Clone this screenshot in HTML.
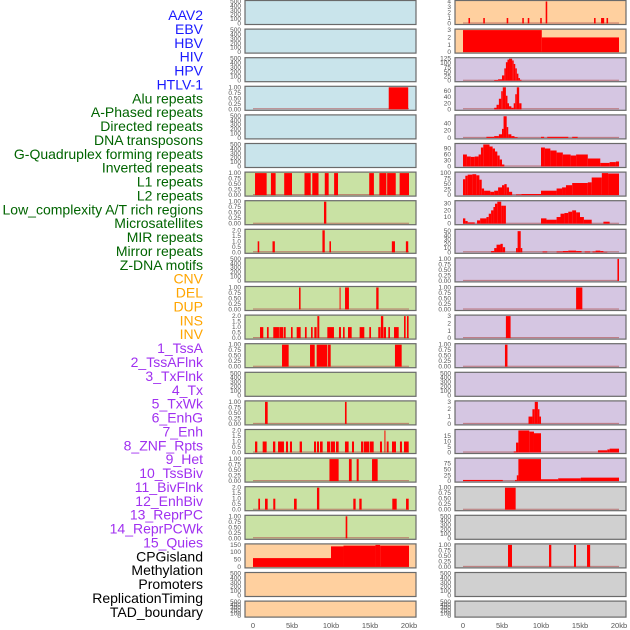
<!DOCTYPE html>
<html><head><meta charset="utf-8"><style>
html,body{margin:0;padding:0;background:#fff;}
svg{display:block;font-family:"Liberation Sans",sans-serif;}
</style></head><body>
<svg id="chart" width="630" height="630" viewBox="0 0 630 630"></svg>
<script>
const labels = ["AAV2","EBV","HBV","HIV","HPV","HTLV-1","Alu repeats","A-Phased repeats","Directed repeats","DNA transposons","G-Quadruplex forming repeats","Inverted repeats","L1 repeats","L2 repeats","Low_complexity A/T rich regions","Microsatellites","MIR repeats","Mirror repeats","Z-DNA motifs","CNV","DEL","DUP","INS","INV","1_TssA","2_TssAFlnk","3_TxFlnk","4_Tx","5_TxWk","6_EnhG","7_Enh","8_ZNF_Rpts","9_Het","10_TssBiv","11_BivFlnk","12_EnhBiv","13_ReprPC","14_ReprPCWk","15_Quies","CPGisland","Methylation","Promoters","ReplicationTiming","TAD_boundary"];
const labelGroups = ["b","b","b","b","b","b","g","g","g","g","g","g","g","g","g","g","g","g","g","o","o","o","o","o","p","p","p","p","p","p","p","p","p","p","p","p","p","p","p","k","k","k","k","k"];
const leftBg  = ["blue","blue","blue","blue","blue","blue","green","green","green","green","green","green","green","green","green","green","green","green","green","peach","peach","peach"];
const rightBg = ["peach","peach","purple","purple","purple","purple","purple","purple","purple","purple","purple","purple","purple","purple","purple","purple","purple","gray","gray","gray","gray","gray"];
const T500=["0","100","200","300","400","500"], T1=["0.00","0.25","0.50","0.75","1.00"], T2=["0.0","0.5","1.0","1.5","2.0"];
const leftTicks = [T500,T500,T500,T1,T500,T500,T1,T1,T2,T500,T1,T2,T1,T500,T1,T2,T1,T2,T1,["0","50","100","150"],T500,T500];
const leftMax = [500,500,500,1,500,500,1,1,2,500,1,2,1,500,1,2,1,2,1,150,500,500];
const rightTicks = [["0","1","2","3","4"],["0","1","2","3"],["0","25","50","75","100","125"],["0","20","40","60"],["0","20","40"],["0","30","60","90"],["0","25","50","75","100"],["0","10","20","30"],["0","10","20","30","40","50"],T1,T1,["0","1","2","3"],T1,T500,["0","1","2","3"],["0","5","10","15"],["0","25","50","75"],T1,T500,T1,T500,T500];
const rightMax = [4,3,125,73,61,110,100,33,52,1,1,3,1,500,3,20,95,1,500,1,500,500];
const leftSegs = [
 [],[],[],
 [[17.4,19.9,1]],
 [],[],
 [[0.26,1.75,1],[2.3,2.9,1],[4.0,5.0,1],[6.6,7.4,1],[7.6,8.4,1],[9.2,9.7,1],[10.4,10.9,1],[14.9,15.5,1],[16.2,17.1,1],[17.2,18.3,1],[18.8,20,1]],
 [[9.1,9.4,1]],
 [[0.6,0.8,1],[2.5,2.8,1],[8.9,9.2,2],[9.8,10.0,1],[17.8,18.2,1],[19.6,19.9,1]],
 [],
 [[5.9,6.1,1],[11.1,11.2,1],[11.8,12.3,1],[15.8,16.1,1]],
 [[0.9,1.32,1],[1.79,2.01,1],[2.6,3.33,1],[3.37,3.89,1],[3.97,4.19,1],[4.87,5.08,1],[5.6,6.11,1],[6.66,6.88,1],[7.44,7.65,1],[7.86,8.16,1],[8.25,8.5,2],[9.53,10.38,1],[11.02,11.28,1],[11.54,11.75,1],[12.18,12.65,1],[13.67,14.27,1],[14.91,15.13,1],[16.06,16.36,1],[16.4,16.7,2],[16.75,17.05,1],[17.35,17.56,1],[18.08,18.68,1],[19.36,19.57,2],[19.74,19.95,2]],
 [[3.72,4.57,1],[7.31,7.91,1],[8.16,9.53,1],[9.62,9.96,1],[18.2,19.06,1]],
 [],
 [[1.54,1.88,1],[11.79,12.0,1]],
 [[0.26,0.55,1],[1.24,1.75,1],[2.56,2.86,1],[3.21,3.97,1],[4.23,4.49,1],[4.74,5.0,1],[5.98,6.28,1],[7.82,8.08,1],[8.2,8.46,1],[8.59,8.93,1],[9.49,9.87,1],[9.96,10.51,1],[10.64,10.98,1],[11.79,12.26,1],[12.69,12.95,1],[13.85,14.15,1],[14.23,14.92,1],[15.0,15.47,1],[16.28,16.54,1],[16.85,16.95,2],[17.14,17.39,1],[17.82,18.33,1],[18.84,19.1,1],[19.36,19.96,1]],
 [[9.8,10.98,1],[12.3,12.65,1],[13.29,13.55,1],[15.26,15.98,1]],
 [[0.68,0.9,1],[1.54,1.88,1],[2.6,2.86,1],[5.26,5.6,1],[8.2,8.5,2],[12.86,13.16,1],[13.63,13.93,1],[17.86,18.42,1],[19.62,19.96,1]],
 [[11.88,12.09,1]],
 [[0,10,60],[10,11.6,140],[11.6,15.7,145],[15.7,16.3,150],[16.3,20,145]],
 [],[]
];
const rightSegs = [
 [[0.7,0.9,1],[2.6,2.8,1],[5.6,5.8,1],[7.6,7.8,1],[8.3,8.5,1],[9.9,10.1,1],[10.6,10.8,4],[16.8,17.0,1],[17.7,18.1,1],[18.4,18.6,1]],
 [[0,10.1,3],[10.1,20,2]],
 [[4,4.5,4],[4.5,5,8],[5,5.3,30],[5.3,5.5,70],[5.5,5.7,105],[5.7,5.9,120],[5.9,6.3,125],[6.3,6.5,115],[6.5,6.7,95],[6.7,6.9,70],[6.9,7.1,40],[7.1,7.3,15],[7.3,7.5,5]],
 [[4,4.3,5],[4.3,4.6,15],[4.6,4.9,35],[4.9,5.1,60],[5.1,5.5,73],[5.5,5.7,45],[5.7,5.9,20],[5.9,6.2,10],[6.2,6.5,5],[6.5,6.7,20],[6.7,6.9,50],[6.9,7.2,73],[7.2,7.5,20]],
 [[3,4,3],[4,4.6,5],[4.6,5,10],[5,5.2,25],[5.2,5.6,60],[5.6,5.8,30],[5.8,6.2,10],[6.2,6.6,5],[6.6,7,2],[10,10.4,3],[10.8,13.5,3],[14,14.7,3]],
 [[0,0.5,60],[0.5,1,50],[1,1.5,48],[1.5,2,50],[2,2.3,60],[2.3,2.6,95],[2.6,3.4,110],[3.4,3.8,100],[3.8,4.1,90],[4.1,4.4,75],[4.4,4.7,55],[4.7,5,35],[5,5.3,10],[10,10.5,95],[10.5,11.2,90],[11.2,12,80],[12,12.8,70],[12.8,13.8,60],[13.8,14.5,55],[14.5,16,60],[16,17.6,40],[17.6,18.8,18],[18.8,19.6,22],[19.6,20,25]],
 [[0,0.3,72],[0.3,0.6,88],[0.6,1.2,93],[1.2,1.7,95],[1.7,2.1,90],[2.1,2.4,70],[2.4,2.7,30],[2.7,3.5,20],[3.5,4,15],[4,4.5,20],[4.5,5,35],[5,5.3,45],[5.3,5.6,50],[5.6,5.9,35],[5.9,6.3,15],[6.8,7.5,3],[7.5,10,5],[10,12,20],[12,12.7,30],[12.7,13.2,35],[13.2,14,45],[14,15,55],[15,16,55],[16,16.5,58],[16.5,17.8,80],[17.8,18.6,100],[18.6,20,98]],
 [[0,0.3,8],[0.3,0.6,4],[0.6,1.5,2],[1.8,2.2,5],[2.2,3,8],[3,3.3,10],[3.3,3.6,15],[3.6,3.9,20],[3.9,4.1,25],[4.1,4.4,30],[4.4,4.9,33],[4.9,5.2,27],[5.2,5.5,27],[10,10.7,8],[10.7,12,6],[12,12.5,10],[12.5,13,15],[13,13.5,16],[13.5,14,18],[14,14.5,20],[14.5,15,17],[15,15.5,10],[15.5,16.5,6],[18,18.8,3]],
 [[3.6,4,3],[4,4.3,10],[4.3,4.8,18],[4.8,5.1,20],[5.1,5.4,12],[6.8,7,10],[7,7.4,50],[7.4,7.6,10],[10.2,10.8,2],[12,12.8,2],[12.8,13.5,3],[13.5,14.5,4],[14.5,15.2,3],[15.6,16.3,2],[16.6,17,2],[17,17.6,4],[17.6,18,3],[18,18.5,1]],
 [[19.8,20,1]],
 [[14.5,15.3,1]],
 [[5.5,6.1,3]],
 [[5.38,5.7,1]],
 [],
 [[8.4,8.9,1],[8.9,9.2,2],[9.2,9.6,3],[9.6,9.8,2],[9.8,10,1]],
 [[6.5,6.8,1],[6.8,7.1,9],[7.1,8.5,20],[8.5,9.1,19],[9.1,10,17.5],[17.3,18.5,2],[18.5,18.8,2.8],[18.8,20,3.5]],
 [[0,5.1,5],[6.67,6.9,5],[6.9,7.1,25],[7.1,10,95],[10,12.2,8],[12.2,15.1,12],[15.1,20,15]],
 [[5.38,6.75,1]],
 [],
 [[5.77,6.28,1],[11.03,11.32,1],[14.23,14.49,1],[15.9,16.3,1]],
 [],[]
];
const xTicks = [0,5,10,15,20];
const xTickLabels = ["0","5kb","10kb","15kb","20kb"];

const NS="http://www.w3.org/2000/svg";
const svg=document.getElementById('chart');
const bgColors={blue:"#c9e4eb",green:"#c9e2a4",peach:"#ffd09f",purple:"#d5c6e2",gray:"#d0d0d0"};
const labelColors={b:"#1a1aff",g:"#006400",o:"#ffa500",p:"#a030f0",k:"#000000"};
function mk(tag,attrs){const e=document.createElementNS(NS,tag);for(const k in attrs)e.setAttribute(k,attrs[k]);svg.appendChild(e);return e;}

labels.forEach((t,i)=>{
  const e=mk('text',{x:203,y:(15+13.88*i+5).toFixed(1),'text-anchor':'end','font-size':'14',fill:labelColors[labelGroups[i]]});
  e.textContent=t;
  
  
});

const cols=[{px:245,pw:171,x0:253,bg:leftBg,ticks:leftTicks,max:leftMax,segs:leftSegs,tx:241,name:'left'},
            {px:455,pw:171,x0:463,bg:rightBg,ticks:rightTicks,max:rightMax,segs:rightSegs,tx:451,name:'right'}];
const kbScale=7.8;
for(let r=0;r<22;r++){
  const top=0.5+28.6*r, h=(r===21)?16:24;
  cols.forEach(c=>{
    const xs=kb=>c.x0+kb*kbScale;
    const ys=v=>top+1+(1-v/c.max[r])*(h-2);
    const rect=mk('rect',{x:c.px,y:top,width:c.pw,height:h,fill:bgColors[c.bg[r]],stroke:'#6a6a6a','stroke-width':1.2});
    
    
    const segs=c.segs[r];
    if(segs.length){
      const bl=mk('line',{x1:xs(0),x2:xs(20),y1:top+h-1.5,y2:top+h-1.5,stroke:'#b05050','stroke-width':1,opacity:0.7});
      
      
    }
    segs.forEach(s=>{
      const x1=xs(s[0]),x2=xs(s[1]),y=ys(s[2]);
      const b=mk('rect',{x:x1.toFixed(2),y:y.toFixed(2),width:Math.max(1,x2-x1).toFixed(2),height:(top+h-1-y).toFixed(2),fill:'#ff0000'});
      
      
    });
    const tk=c.ticks[r], n=tk.length;
    tk.forEach((t,j)=>{
      const v=c.max[r]*(j/(n-1))*( (parseFloat(tk[n-1])||c.max[r]) / c.max[r] );
      const y=ys(parseFloat(t));
      const e=mk('text',{x:c.tx,y:(y+2).toFixed(1),'text-anchor':'end','font-size':'6.5',fill:'#555'});
      e.textContent=t;
      
      
    });
  });
}
cols.forEach(c=>{
  xTicks.forEach((k,i)=>{
    const e=mk('text',{x:c.x0+k*kbScale,y:628,'text-anchor':'middle','font-size':'7.5',fill:'#555'});
    e.textContent=xTickLabels[i];
    
    
  });
});
</script>
</body></html>
